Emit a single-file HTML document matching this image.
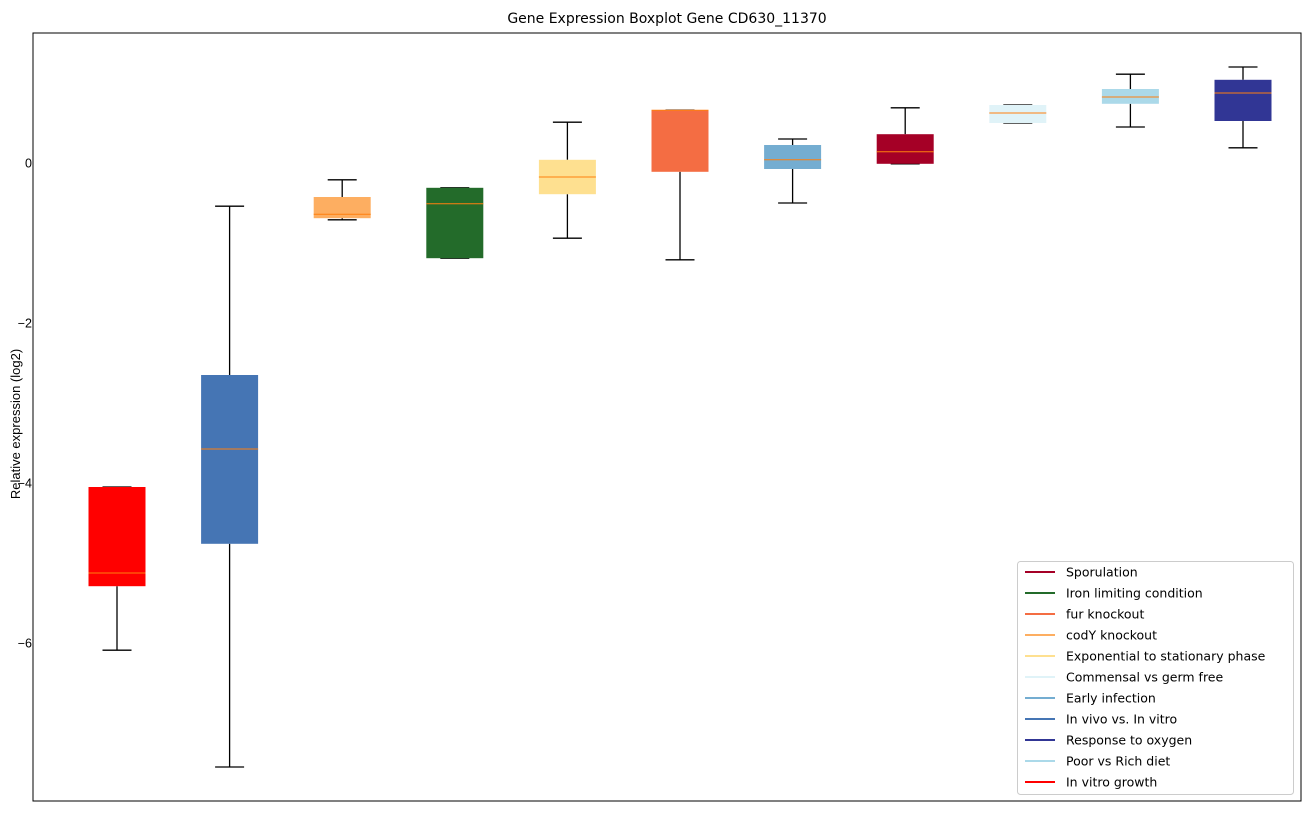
<!DOCTYPE html>
<html><head><meta charset="utf-8"><style>
body{margin:0;background:#fff;font-family:"Liberation Sans","DejaVu Sans",sans-serif;}
svg text{font-family:"Liberation Sans","DejaVu Sans",sans-serif;}
svg text.dv{font-family:"DejaVu Sans","Liberation Sans",sans-serif;}
</style></head><body>
<svg id="chart" width="1309" height="812" xmlns="http://www.w3.org/2000/svg"></svg>
<script>
const categories=["In vitro growth","In vivo vs. In vitro","codY knockout","Iron limiting condition","Exponential to stationary phase","fur knockout","Early infection","Sporulation","Commensal vs germ free","Poor vs Rich diet","Response to oxygen"];
const colors=["#ff0000","#4575b4","#fdae61","#236b2a","#fee090","#f46d43","#74add1","#a50026","#e0f3f8","#abd9e9","#313695"];
const whiskerLow=[-6.09,-7.55,-0.71,-1.19,-0.94,-1.21,-0.5,-0.01,0.5,0.45,0.19];
const q1=[-5.29,-4.76,-0.69,-1.19,-0.39,-0.11,-0.075,-0.01,0.5,0.74,0.525];
const median=[-5.125,-3.575,-0.64,-0.51,-0.175,0.66,0.04,0.14,0.625,0.825,0.875];
const q3=[-4.05,-2.65,-0.425,-0.31,0.04,0.66,0.225,0.36,0.725,0.925,1.04];
const whiskerHigh=[-4.05,-0.54,-0.21,-0.31,0.51,0.66,0.3,0.69,0.725,1.11,1.2];
const yTicks=[0,-2,-4,-6];
const legendLabels=["Sporulation","Iron limiting condition","fur knockout","codY knockout","Exponential to stationary phase","Commensal vs germ free","Early infection","In vivo vs. In vitro","Response to oxygen","Poor vs Rich diet","In vitro growth"];
const legendColors=["#a50026","#236b2a","#f46d43","#fdae61","#fee090","#e0f3f8","#74add1","#4575b4","#313695","#abd9e9","#ff0000"];

const svg=document.getElementById('chart');
const NS="http://www.w3.org/2000/svg";
const L=33,R=1301,T=33,B=801;
const y=v=>163-80*v;
const xc=i=>117+i*112.6;
function mk(tag,attrs,parent){const e=document.createElementNS(NS,tag);for(const k in attrs)e.setAttribute(k,attrs[k]);(parent||svg).appendChild(e);return e;}

const title=mk('text',{x:(L+R)/2,y:23,'text-anchor':'middle','font-size':14,fill:'#000',class:'dv'});


title.textContent="Gene Expression Boxplot Gene CD630_11370";

const yl=mk('text',{x:0,y:0,transform:'translate(20,424) rotate(-90)','text-anchor':'middle','font-size':13,fill:'#000'});


yl.textContent="Relative expression (log2)";

yTicks.forEach(t=>{
  const g=mk('g',{});
  
  
  const tx=mk('text',{x:32,y:y(t)+4.5,'text-anchor':'end','font-size':12.5},g);
  tx.textContent=t===0?"0":"\u2212"+Math.abs(t);
});

categories.forEach((c,i)=>{
  const cx=xc(i),w=57,cw=29;
  const g=mk('g',{});
  
  
  mk('line',{x1:cx,x2:cx,y1:y(whiskerLow[i]),y2:y(q1[i]),stroke:'#000','stroke-width':1.3},g);
  mk('line',{x1:cx,x2:cx,y1:y(whiskerHigh[i]),y2:y(q3[i]),stroke:'#000','stroke-width':1.3},g);
  mk('line',{x1:cx-cw/2,x2:cx+cw/2,y1:y(whiskerLow[i]),y2:y(whiskerLow[i]),stroke:'#000','stroke-width':1.3},g);
  mk('line',{x1:cx-cw/2,x2:cx+cw/2,y1:y(whiskerHigh[i]),y2:y(whiskerHigh[i]),stroke:'#000','stroke-width':1.3},g);
  const h=Math.max(1,y(q1[i])-y(q3[i]));
  mk('rect',{x:cx-w/2,y:y(q3[i]),width:w,height:h,fill:colors[i]},g);
  mk('line',{x1:cx-w/2,x2:cx+w/2,y1:y(median[i]),y2:y(median[i]),stroke:'#ff7f0e','stroke-width':1},g);
});

const frame=mk('rect',{x:L,y:T,width:R-L,height:B-T,fill:'none',stroke:'#000','stroke-width':1});



const lg=mk('g',{});


mk('rect',{x:1017.5,y:561.5,width:276,height:233,rx:3,fill:'#fff','fill-opacity':0.8,stroke:'#ccc'},lg);
legendLabels.forEach((lab,i)=>{
  const ly=572+i*21;
  const e=mk('g',{},lg);
  
  
  mk('line',{x1:1025,x2:1055,y1:ly,y2:ly,stroke:legendColors[i],'stroke-width':2},e);
  const t=mk('text',{x:1066,y:ly+4.5,'font-size':12.5,class:'dv'},e);
  t.textContent=lab;
});
</script>
</body></html>
